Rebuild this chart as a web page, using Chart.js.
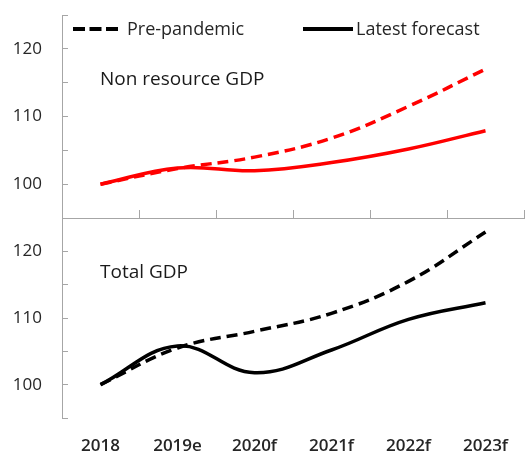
<!DOCTYPE html>
<html><head><meta charset="utf-8">
<script src="https://cdn.jsdelivr.net/npm/chart.js@4.4.0/dist/chart.umd.min.js"></script>
<style>
html,body{margin:0;padding:0;background:#fff;}
body{width:526px;height:455px;position:relative;overflow:hidden;font-family:"Open Sans",sans-serif;}
#bot{position:absolute;left:0;top:200px;width:526px;height:255px;}
#top{position:absolute;left:0;top:0;width:526px;height:230px;}
.txt{position:absolute;white-space:nowrap;line-height:22px;height:22px;color:#1a1a1a;}
</style></head><body>
<div id="bot"><canvas id="c2"></canvas></div>
<div id="top"><canvas id="c1"></canvas></div>
<div id="overlay"></div>
<script>
const categories = ['2018', '2019e', '2020f', '2021f', '2022f', '2023f'];
const nonResourcePre = [100, 102.3, 104.0, 106.8, 111.5, 117.0];
const nonResourceLatest = [100, 102.4, 102.0, 103.2, 105.2, 107.9];
const totalPre = [100, 105.5, 108.0, 110.7, 115.5, 122.9];
const totalLatest = [100, 105.8, 101.8, 105.2, 109.8, 112.3];
const yMin = 95, yMax = 125, yStep = 5;
const labelledTicks = [100, 110, 120];
const seriesNames = ['Pre-pandemic', 'Latest forecast'];
const panelTitles = ['Non resource GDP', 'Total GDP'];

const AXIS = '#a6a6a6';
const TXT = '#262626';
const FONT = 'Open Sans';

function yScale() {
  return {
    min: yMin, max: yMax,
    ticks: { stepSize: yStep, autoSkip: false, padding: 26, color: TXT,
      font: { family: FONT, size: 17 },
      callback: v => labelledTicks.includes(v) ? String(v) : '' },
    grid: { drawOnChartArea: false, drawTicks: true, tickLength: -6, color: AXIS, lineWidth: 1 },
    border: { display: true, color: AXIS, width: 1 },
    afterFit: s => { s.width = 62; s.paddingTop = 0; s.paddingBottom = 0; }
  };
}
function ds(label, data, color, dashed) {
  return { label, data, borderColor: color, backgroundColor: color,
    borderWidth: 3.5, borderDash: dashed ? [11, 6] : [],
    tension: 0.4, pointRadius: 0, fill: false, borderCapStyle: 'butt' };
}
const common = {
  responsive: true, maintainAspectRatio: false, animation: false,
  plugins: { legend: { display: false }, tooltip: { enabled: false } }
};

new Chart(document.getElementById('c1'), {
  type: 'line',
  data: { labels: categories, datasets: [
    ds(seriesNames[0], nonResourcePre, '#ff0000', true),
    ds(seriesNames[1], nonResourceLatest, '#ff0000', false)
  ]},
  options: Object.assign({}, common, {
    layout: { padding: { top: 15, right: 2, left: 0, bottom: 0 } },
    scales: {
      x: { type: 'category', offset: true,
        grid: { offset: true, drawOnChartArea: false, drawTicks: true, tickLength: -8, color: AXIS },
        border: { display: true, color: AXIS },
        ticks: { display: false, padding: 0 },
        afterFit: s => { s.height = 12; s.paddingLeft = 0; s.paddingRight = 0; } },
      y: yScale()
    }
  })
});

new Chart(document.getElementById('c2'), {
  type: 'line',
  data: { labels: categories, datasets: [
    ds(seriesNames[0], totalPre, '#000000', true),
    ds(seriesNames[1], totalLatest, '#000000', false)
  ]},
  options: Object.assign({}, common, {
    layout: { padding: { top: 18, right: 2, left: 0, bottom: 0 } },
    scales: {
      x: { type: 'category', offset: true,
        grid: { display: false, drawTicks: false },
        border: { display: false },
        ticks: { padding: 18, color: TXT, font: { family: FONT, size: 17, weight: '600' } },
        afterFit: s => { s.height = 37; s.paddingLeft = 0; s.paddingRight = 0; } },
      y: yScale()
    }
  })
});

// legend and panel titles
const ov = document.getElementById('overlay');
function addText(str, left, cy, size, color) {
  const d = document.createElement('div');
  d.className = 'txt';
  d.textContent = str;
  d.style.left = left + 'px';
  d.style.top = (cy - 11) + 'px';
  d.style.fontSize = size + 'px';
  if (color) d.style.color = color;
  ov.appendChild(d);
}
function addLine(left, width, cy, dashed) {
  const ns = 'http://www.w3.org/2000/svg';
  const s = document.createElementNS(ns, 'svg');
  s.setAttribute('width', width); s.setAttribute('height', 6);
  s.style.position = 'absolute'; s.style.left = left + 'px'; s.style.top = (cy - 3) + 'px';
  const l = document.createElementNS(ns, 'line');
  l.setAttribute('x1', 0); l.setAttribute('x2', width);
  l.setAttribute('y1', 3); l.setAttribute('y2', 3);
  l.setAttribute('stroke', '#000'); l.setAttribute('stroke-width', 4);
  if (dashed) l.setAttribute('stroke-dasharray', '12 4.5');
  s.appendChild(l); ov.appendChild(s);
}
addLine(73, 45, 29, true);
addText(seriesNames[0], 127, 28, 18, TXT);
addLine(303, 50, 29, false);
addText(seriesNames[1], 356, 28, 18, TXT);
addText(panelTitles[0], 100, 78, 19, '#1a1a1a');
addText(panelTitles[1], 100, 271, 19, '#1a1a1a');
</script>
</body></html>
